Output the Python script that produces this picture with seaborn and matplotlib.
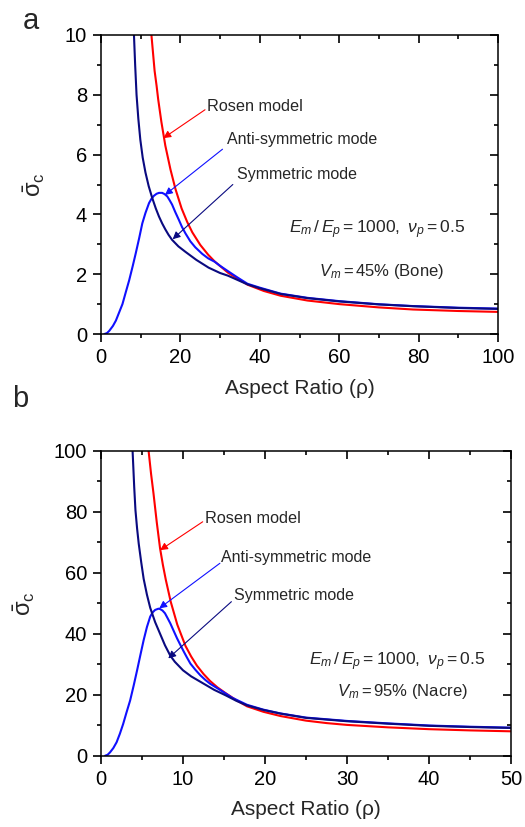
import matplotlib
matplotlib.use("Agg")
import matplotlib.pyplot as plt
import matplotlib.lines as mlines
import seaborn as sns

# ---------------- data ----------------
# Panel a : Vm = 45% (Bone)
rho_a_sym = [8.3, 8.6, 8.95, 9.4, 9.9, 10.5, 11.2, 12.0, 12.9, 13.8, 14.6, 15.4, 16.2, 17.0, 17.9,
             19.5, 21.25, 24.0, 27.1, 30.0, 32.0, 36.9, 40.0, 45.25, 52.0, 60.0, 70.0, 78.6, 90.0, 100.0]
sym_a = [10.0, 9.0, 8.0, 7.2, 6.5, 5.9, 5.4, 4.95, 4.55, 4.2, 3.93, 3.7, 3.5, 3.32, 3.15,
         2.93, 2.75, 2.48, 2.22, 2.04, 1.95, 1.66, 1.53, 1.34, 1.2, 1.09, 0.99, 0.93, 0.87, 0.84]

rho_a_anti = [0.83, 1.5, 2.1, 3.0, 3.75, 4.5, 5.4, 6.2, 7.1, 8.0, 8.75, 9.6, 10.4, 11.2, 12.1, 12.7,
              13.3, 14.0, 14.6, 15.4, 16.0, 16.7, 17.3, 17.9, 18.7, 19.6, 20.4, 21.25, 22.5, 23.75,
              25.5, 27.0, 28.6, 30.0, 32.0, 34.5, 36.9, 40.0, 45.25, 52.0, 60.0, 70.0, 78.6, 90.0, 100.0]
anti_a = [0.0, 0.03, 0.11, 0.27, 0.45, 0.7, 1.0, 1.38, 1.8, 2.28, 2.7, 3.2, 3.7, 4.05, 4.38, 4.52,
          4.62, 4.69, 4.72, 4.72, 4.68, 4.6, 4.47, 4.33, 4.08, 3.82, 3.58, 3.37, 3.1, 2.9,
          2.68, 2.53, 2.42, 2.28, 2.1, 1.88, 1.68, 1.55, 1.35, 1.21, 1.1, 0.995, 0.935, 0.88, 0.85]

rho_a_rosen = [12.7, 13.1, 13.5, 14.0, 14.4, 15.2, 16.2, 17.5, 18.75, 20.3, 21.7, 23.0, 25.0, 27.0,
               28.6, 32.0, 36.9, 41.0, 45.25, 52.0, 60.0, 70.0, 78.6, 90.0, 100.0]
rosen_a = [10.0, 9.4, 8.8, 8.3, 7.85, 7.1, 6.3, 5.5, 4.85, 4.2, 3.75, 3.4, 2.98, 2.65,
           2.43, 2.05, 1.65, 1.44, 1.28, 1.12, 1.0, 0.89, 0.82, 0.77, 0.74]

# Panel b : Vm = 95% (Nacre)
rho_b_sym = [3.85, 3.95, 4.05, 4.2, 4.4, 4.6, 4.9, 5.2, 5.6, 6.0, 6.6, 7.2, 7.8, 8.45, 9.0, 10.0,
             11.0, 12.4, 13.8, 15.2, 16.5, 17.8, 19.8, 21.9, 25.0, 30.0, 35.0, 40.0, 45.0, 50.0]
sym_b = [100.0, 94.0, 88.0, 80.5, 74.5, 69.5, 63.5, 58.0, 52.8, 48.5, 43.8, 40.0, 36.2, 32.8, 30.8, 28.0,
         26.0, 23.8, 21.6, 19.8, 18.0, 16.5, 15.0, 13.8, 12.4, 11.3, 10.5, 9.8, 9.4, 9.1]

rho_b_anti = [0.5, 0.8, 1.1, 1.5, 1.9, 2.3, 2.7, 3.1, 3.55, 4.0, 4.4, 4.8, 5.2, 5.6, 6.0, 6.3, 6.6,
              7.0, 7.2, 7.5, 7.8, 8.1, 8.45, 8.85, 9.27, 9.7, 10.1, 10.5, 10.9, 11.5, 12.1, 12.7,
              13.3, 14.5, 16.0, 17.8, 19.8, 21.9, 25.0, 30.0, 35.0, 40.0, 45.0, 50.0]
anti_b = [0.0, 0.3, 1.1, 2.5, 4.4, 7.2, 10.4, 14.1, 18.1, 23.2, 28.0, 33.0, 37.9, 42.2, 45.6, 47.0, 47.8,
          48.2, 48.1, 47.6, 46.7, 45.2, 43.4, 41.0, 38.5, 36.2, 34.1, 32.1, 30.2, 28.2, 26.4, 24.9,
          23.6, 21.6, 19.0, 16.7, 15.1, 13.85, 12.5, 11.4, 10.6, 9.9, 9.5, 9.2]

rho_b_rosen = [5.8, 6.1, 6.4, 6.8, 7.2, 7.55, 7.9, 8.5, 9.3, 10.3, 11.0, 11.7, 12.5, 13.3, 14.2,
               15.2, 16.5, 17.8, 19.8, 21.9, 25.0, 27.5, 30.0, 35.0, 40.0, 45.0, 50.0]
rosen_b = [100.0, 92.5, 86.0, 76.5, 68.0, 62.5, 57.7, 50.5, 43.0, 36.0, 32.5, 29.5, 26.8, 24.5, 22.4,
           20.5, 18.2, 16.2, 14.4, 13.0, 11.5, 10.7, 10.1, 9.3, 8.7, 8.3, 8.0]

xticks_a = [0, 20, 40, 60, 80, 100]
yticks_a = [0, 2, 4, 6, 8, 10]
xticks_b = [0, 10, 20, 30, 40, 50]
yticks_b = [0, 20, 40, 60, 80, 100]

# ---------------- style ----------------
sns.set_style("ticks")
plt.rcParams["font.family"] = ["Liberation Sans", "DejaVu Sans"]
plt.rcParams["mathtext.fontset"] = "custom"
plt.rcParams["mathtext.rm"] = "Liberation Sans"
plt.rcParams["mathtext.it"] = "Liberation Sans:italic"
plt.rcParams["xtick.color"] = "black"
plt.rcParams["ytick.color"] = "black"

RED = "#ff0000"
BLUE = "#1010ff"
NAVY = "#0a0a80"

fig = plt.figure(figsize=(5.25, 8.27), dpi=100)
ax_a = fig.add_axes([0.1924, 0.5961, 0.7562, 0.3616])
ax_b = fig.add_axes([0.1924, 0.0862, 0.7810, 0.3688])


def draw(ax, rs, s, ra, a, rr, r):
    sns.lineplot(x=rr, y=r, ax=ax, color=RED, lw=1.5, sort=False, estimator=None)
    sns.lineplot(x=ra, y=a, ax=ax, color=BLUE, lw=1.5, sort=False, estimator=None)
    sns.lineplot(x=rs, y=s, ax=ax, color=NAVY, lw=1.5, sort=False, estimator=None)


def style_axes(ax, xlim, ylim, xt, yt, xminor, yminor, ylab_x, xlab_y):
    ax.set_xlim(*xlim)
    ax.set_ylim(*ylim)
    ax.set_xticks(xt)
    ax.set_yticks(yt)
    ax.set_xticks(xminor, minor=True)
    ax.set_yticks(yminor, minor=True)
    ax.tick_params(which="both", bottom=True, left=True, top=True, right=True,
                   labeltop=False, labelright=False, direction="out", color="black")
    ax.tick_params(which="major", length=6, width=1.2, labelsize=14.5,
                   labelcolor="black", pad=4)
    ax.tick_params(which="minor", length=3.2, width=1.2)
    for sp in ax.spines.values():
        sp.set_visible(True)
        sp.set_linewidth(1.1)
        sp.set_color("black")
    ax.set_xlabel("Aspect Ratio (ρ)", fontsize=15)
    ax.set_ylabel(r"$\bar{\mathrm{\sigma}}_\mathrm{c}$", fontsize=17)
    ax.yaxis.set_label_coords(ylab_x, 0.5)
    ax.xaxis.set_label_coords(0.5, xlab_y)


def mirror_ticks_inward(ax):
    # top / right ticks point inward, bottom / left outward
    for tk in ax.xaxis.get_major_ticks() + ax.xaxis.get_minor_ticks():
        tk.tick2line.set_marker(mlines.TICKDOWN)
        tk.tick2line.set_markeredgecolor("black")
    for tk in ax.yaxis.get_major_ticks() + ax.yaxis.get_minor_ticks():
        tk.tick2line.set_marker(mlines.TICKLEFT)
        tk.tick2line.set_markeredgecolor("black")


def arrow(ax, tail, tip, color):
    ax.annotate("", xy=tip, xytext=tail,
                arrowprops=dict(arrowstyle="-|>", color=color, lw=0.8,
                                mutation_scale=11, shrinkA=0, shrinkB=0))


# ---------------- panel a ----------------
draw(ax_a, rho_a_sym, sym_a, rho_a_anti, anti_a, rho_a_rosen, rosen_a)
ax_a.text(26.8, 7.6, "Rosen model", fontsize=11.7, ha="left", va="center")
arrow(ax_a, (26.2, 7.5), (15.7, 6.55), RED)
ax_a.text(31.7, 6.51, "Anti-symmetric mode", fontsize=11.5, ha="left", va="center")
arrow(ax_a, (30.6, 6.18), (16.1, 4.65), BLUE)
ax_a.text(34.3, 5.34, "Symmetric mode", fontsize=11.5, ha="left", va="center")
arrow(ax_a, (33.2, 5.0), (18.05, 3.17), NAVY)
ax_a.text(69.6, 3.48, r"$E_m\,/\,E_p = 1000,\ \nu_p = 0.5$", fontsize=12.6,
          ha="center", va="center")
ax_a.text(70.7, 2.08, r"$V_m = 45\%$ (Bone)", fontsize=12, ha="center", va="center")
style_axes(ax_a, (0, 100), (0, 10), xticks_a, yticks_a,
           list(range(10, 100, 20)), [1, 3, 5, 7, 9], -0.136, -0.15)
fig.text(0.058, 0.975, "a", fontsize=21, ha="center", va="center")

# ---------------- panel b ----------------
draw(ax_b, rho_b_sym, sym_b, rho_b_anti, anti_b, rho_b_rosen, rosen_b)
ax_b.text(12.7, 77.8, "Rosen model", fontsize=11.7, ha="left", va="center")
arrow(ax_b, (12.4, 76.7), (7.2, 67.4), RED)
ax_b.text(14.6, 65.0, "Anti-symmetric mode", fontsize=11.5, ha="left", va="center")
arrow(ax_b, (14.5, 63.1), (7.1, 48.3), BLUE)
ax_b.text(16.2, 52.4, "Symmetric mode", fontsize=11.5, ha="left", va="center")
arrow(ax_b, (15.9, 50.5), (8.2, 31.9), NAVY)
ax_b.text(36.1, 30.8, r"$E_m\,/\,E_p = 1000,\ \nu_p = 0.5$", fontsize=12.6,
          ha="center", va="center")
ax_b.text(36.8, 21.0, r"$V_m = 95\%$ (Nacre)", fontsize=12, ha="center", va="center")
style_axes(ax_b, (0, 50), (0, 100), xticks_b, yticks_b,
           [5, 15, 25, 35, 45], [10, 30, 50, 70, 90], -0.156, -0.145)
fig.text(0.039, 0.518, "b", fontsize=21, ha="center", va="center")

fig.canvas.draw()
mirror_ticks_inward(ax_a)
mirror_ticks_inward(ax_b)

fig.savefig("out.png", dpi=100)
